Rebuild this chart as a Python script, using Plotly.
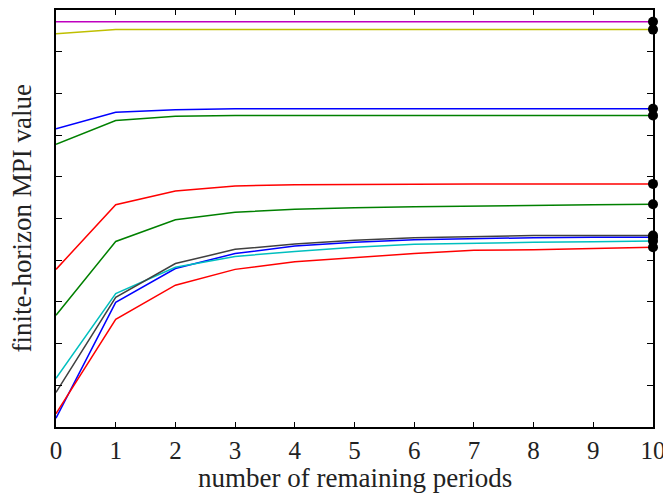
import plotly.graph_objects as go

periods = list(range(11))

magenta_vals = [9.72, 9.72, 9.72, 9.72, 9.72, 9.72, 9.72, 9.72, 9.72, 9.72, 9.72]
yellow_vals = [9.43, 9.53, 9.53, 9.53, 9.53, 9.53, 9.53, 9.53, 9.53, 9.53, 9.53]
blue_top_vals = [7.15, 7.55, 7.61, 7.63, 7.63, 7.63, 7.63, 7.63, 7.63, 7.63, 7.63]
green_top_vals = [6.78, 7.35, 7.45, 7.47, 7.47, 7.47, 7.47, 7.47, 7.47, 7.47, 7.47]
red_mid_vals = [3.78, 5.33, 5.66, 5.78, 5.81, 5.82, 5.82, 5.83, 5.83, 5.83, 5.83]
green_mid_vals = [2.68, 4.45, 4.97, 5.15, 5.22, 5.26, 5.28, 5.30, 5.31, 5.33, 5.34]
blue_low_vals = [0.21, 2.99, 3.80, 4.16, 4.34, 4.43, 4.49, 4.52, 4.54, 4.55, 4.55]
cyan_vals = [1.17, 3.20, 3.83, 4.09, 4.21, 4.31, 4.38, 4.41, 4.43, 4.44, 4.46]
red_low_vals = [0.32, 2.58, 3.40, 3.78, 3.96, 4.06, 4.16, 4.24, 4.25, 4.28, 4.31]
gray_vals = [0.83, 3.11, 3.92, 4.26, 4.39, 4.48, 4.54, 4.57, 4.59, 4.59, 4.59]

x_title = "number of remaining periods"
y_title = "finite-horizon MPI value"

series = [
    (blue_low_vals, "#0000FF"),
    (cyan_vals, "#00BFBF"),
    (red_low_vals, "#FF0000"),
    (gray_vals, "#404040"),
    (green_mid_vals, "#008000"),
    (red_mid_vals, "#FF0000"),
    (green_top_vals, "#008000"),
    (blue_top_vals, "#0000FF"),
    (yellow_vals, "#BFBF00"),
    (magenta_vals, "#BF00BF"),
]

fig = go.Figure()
for vals, color in series:
    fig.add_trace(go.Scatter(x=periods, y=vals, mode="lines",
                             line=dict(color=color, width=1.5),
                             showlegend=False, hoverinfo="skip"))

fig.add_trace(go.Scatter(x=[periods[-1]] * len(series),
                         y=[vals[-1] for vals, _ in series],
                         mode="markers", cliponaxis=False,
                         marker=dict(color="black", size=10),
                         showlegend=False, hoverinfo="skip"))

font_family = "Liberation Serif, DejaVu Serif, serif"
fig.update_layout(
    width=663, height=494,
    margin=dict(l=56, r=10, t=10, b=67, autoexpand=False),
    plot_bgcolor="white", paper_bgcolor="white",
    font=dict(family=font_family, size=22, color="#222"),
    xaxis=dict(range=[0, 10], dtick=1, tick0=0, ticks="inside", ticklen=5,
               tickwidth=1, tickcolor="black", mirror="allticks",
               showline=True, linecolor="black", linewidth=2,
               showgrid=False, zeroline=False, automargin=False,
               ticklabeloverflow="allow",
               tickfont=dict(size=25)),
    yaxis=dict(range=[0, 10], dtick=1, tick0=0, ticks="inside", ticklen=6,
               tickwidth=1, tickcolor="black", mirror="allticks",
               showline=True, linecolor="black", linewidth=2,
               showgrid=False, zeroline=False, showticklabels=False,
               automargin=False),
    annotations=[
        dict(text=x_title, xref="paper", yref="paper", x=0.5, y=-0.122,
             xanchor="center", yanchor="middle", showarrow=False,
             font=dict(size=27)),
        dict(text=y_title, xref="paper", yref="paper", x=-0.057, y=0.5,
             xanchor="center", yanchor="middle", textangle=-90, showarrow=False,
             font=dict(size=27)),
    ],
)

fig.write_html("out.html",
               config={"displayModeBar": False, "staticPlot": True},
               post_script="document.body.style.margin='0';document.body.style.overflow='hidden';")
